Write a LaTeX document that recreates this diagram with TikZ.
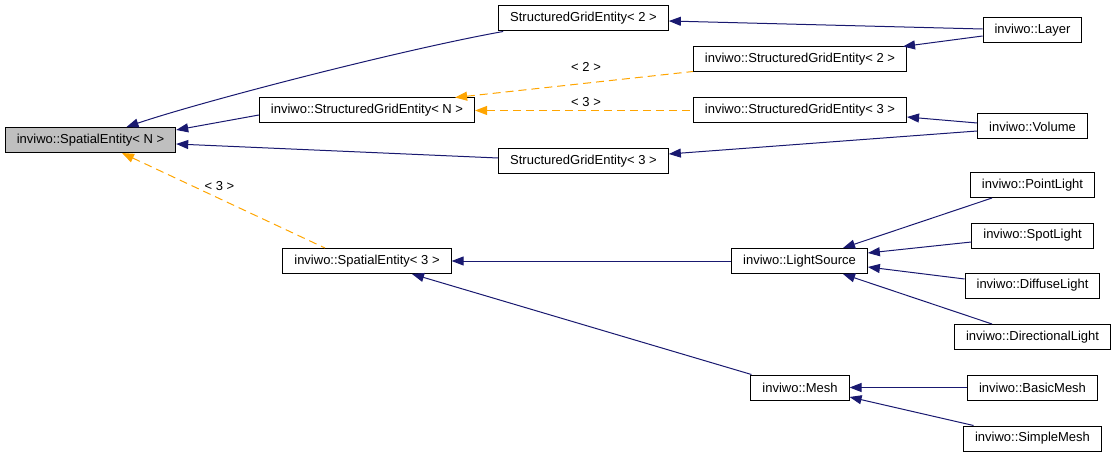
\documentclass[tikz,border=0pt]{standalone}
\usepackage{fontspec}
\setmainfont{Liberation Sans}
\usetikzlibrary{arrows.meta}
\definecolor{edgeblue}{HTML}{191970}
\definecolor{tmplorange}{HTML}{FFA500}
\definecolor{rootgray}{HTML}{BFBFBF}

\begin{document}
\begin{tikzpicture}[x=1pt, y=-1pt,
    cls/.style={draw=black, line width=1pt, fill=white, inner xsep=11.5pt, inner ysep=0pt,
      minimum height=25pt, font=\fontsize{13pt}{15pt}\selectfont},
    inh/.style={color=edgeblue, line width=1pt, {Triangle[length=12pt,width=9pt]}-},
    tmpl/.style={color=tmplorange, line width=1pt, dash pattern=on 8pt off 5pt,
      {Triangle[length=12pt,width=9pt]}-},
    lbl/.style={text=black, font=\fontsize{13pt}{15pt}\selectfont, inner sep=0pt}]
    \useasboundingbox (0,0) rectangle (1115,457);
    \node[cls, fill=rootgray] (root) at (90.5,140) {inviwo::SpatialEntity< N >};
    \node[cls] (sge2) at (583.5,18.5) {StructuredGridEntity< 2 >};
    \node[cls] (layer) at (1032.5,30.5) {inviwo::Layer};
    \node[cls] (isge2) at (800,59.5) {inviwo::StructuredGridEntity< 2 >};
    \node[cls] (sgeN) at (367,110.5) {inviwo::StructuredGridEntity< N >};
    \node[cls] (isge3) at (800,110.5) {inviwo::StructuredGridEntity< 3 >};
    \node[cls] (volume) at (1032.5,126.5) {inviwo::Volume};
    \node[cls] (sge3) at (583.5,161.5) {StructuredGridEntity< 3 >};
    \node[cls] (pointlight) at (1032.5,185) {inviwo::PointLight};
    \node[cls] (spotlight) at (1032.5,235.5) {inviwo::SpotLight};
    \node[cls] (se3) at (367,261) {inviwo::SpatialEntity< 3 >};
    \node[cls] (lightsource) at (799.5,261) {inviwo::LightSource};
    \node[cls] (diffuse) at (1032.5,285.5) {inviwo::DiffuseLight};
    \node[cls] (directional) at (1032.5,337) {inviwo::DirectionalLight};
    \node[cls] (mesh) at (800,387.5) {inviwo::Mesh};
    \node[cls] (basicmesh) at (1032.5,387.5) {inviwo::BasicMesh};
    \node[cls] (simplemesh) at (1032.5,438.5) {inviwo::SimpleMesh};

    \draw[inh] ([xshift=36pt]root.north) .. controls (200,102) and (400,50) .. ([xshift=5pt]sge2.south west);
    \draw[inh] ([yshift=10pt]root.east) -- ([yshift=-4.5pt]sgeN.west);
    \draw[inh] ([yshift=-4pt]root.east) -- ([yshift=3.5pt]sge3.west);
    \draw[tmpl] ([xshift=31.5pt]root.south) -- node[lbl, xshift=-4pt, yshift=14pt] {< 3 >} ([xshift=-42pt]se3.north);
    \draw[tmpl] ([xshift=-20pt]sgeN.north east) -- node[lbl, xshift=12pt, yshift=18pt] {< 2 >} ([yshift=1pt]isge2.south west);
    \draw[tmpl] (sgeN.east) -- node[lbl, xshift=2pt, yshift=8.5pt] {< 3 >} (isge3.west);
    \draw[inh] ([yshift=-2.5pt]sge2.east) -- ([yshift=1.5pt]layer.west);
    \draw[inh] ([xshift=-4pt]isge2.north east) -- ([yshift=-5.5pt]layer.west);
    \draw[inh] ([yshift=-6.5pt]isge3.east) -- ([yshift=3.5pt]volume.west);
    \draw[inh] ([yshift=7.5pt]sge3.east) -- ([yshift=-4.5pt]volume.west);
    \draw[inh] (se3.east) -- (lightsource.west);
    \draw[inh] ([xshift=45pt]se3.south) -- ([xshift=1pt]mesh.north west);
    \draw[inh] ([xshift=43.5pt]lightsource.north) -- ([xshift=-40.5pt]pointlight.south);
    \draw[inh] ([yshift=8pt]lightsource.east) -- ([yshift=-6.5pt]spotlight.west);
    \draw[inh] ([yshift=-6pt]lightsource.east) -- ([yshift=6.5pt]diffuse.west);
    \draw[inh] ([xshift=43.5pt]lightsource.south) -- ([xshift=-40.5pt]directional.north);
    \draw[inh] (mesh.east) -- (basicmesh.west);
    \draw[inh] ([yshift=-9.5pt]mesh.east) -- ([xshift=-59pt]simplemesh.north);
\end{tikzpicture}
\end{document}
